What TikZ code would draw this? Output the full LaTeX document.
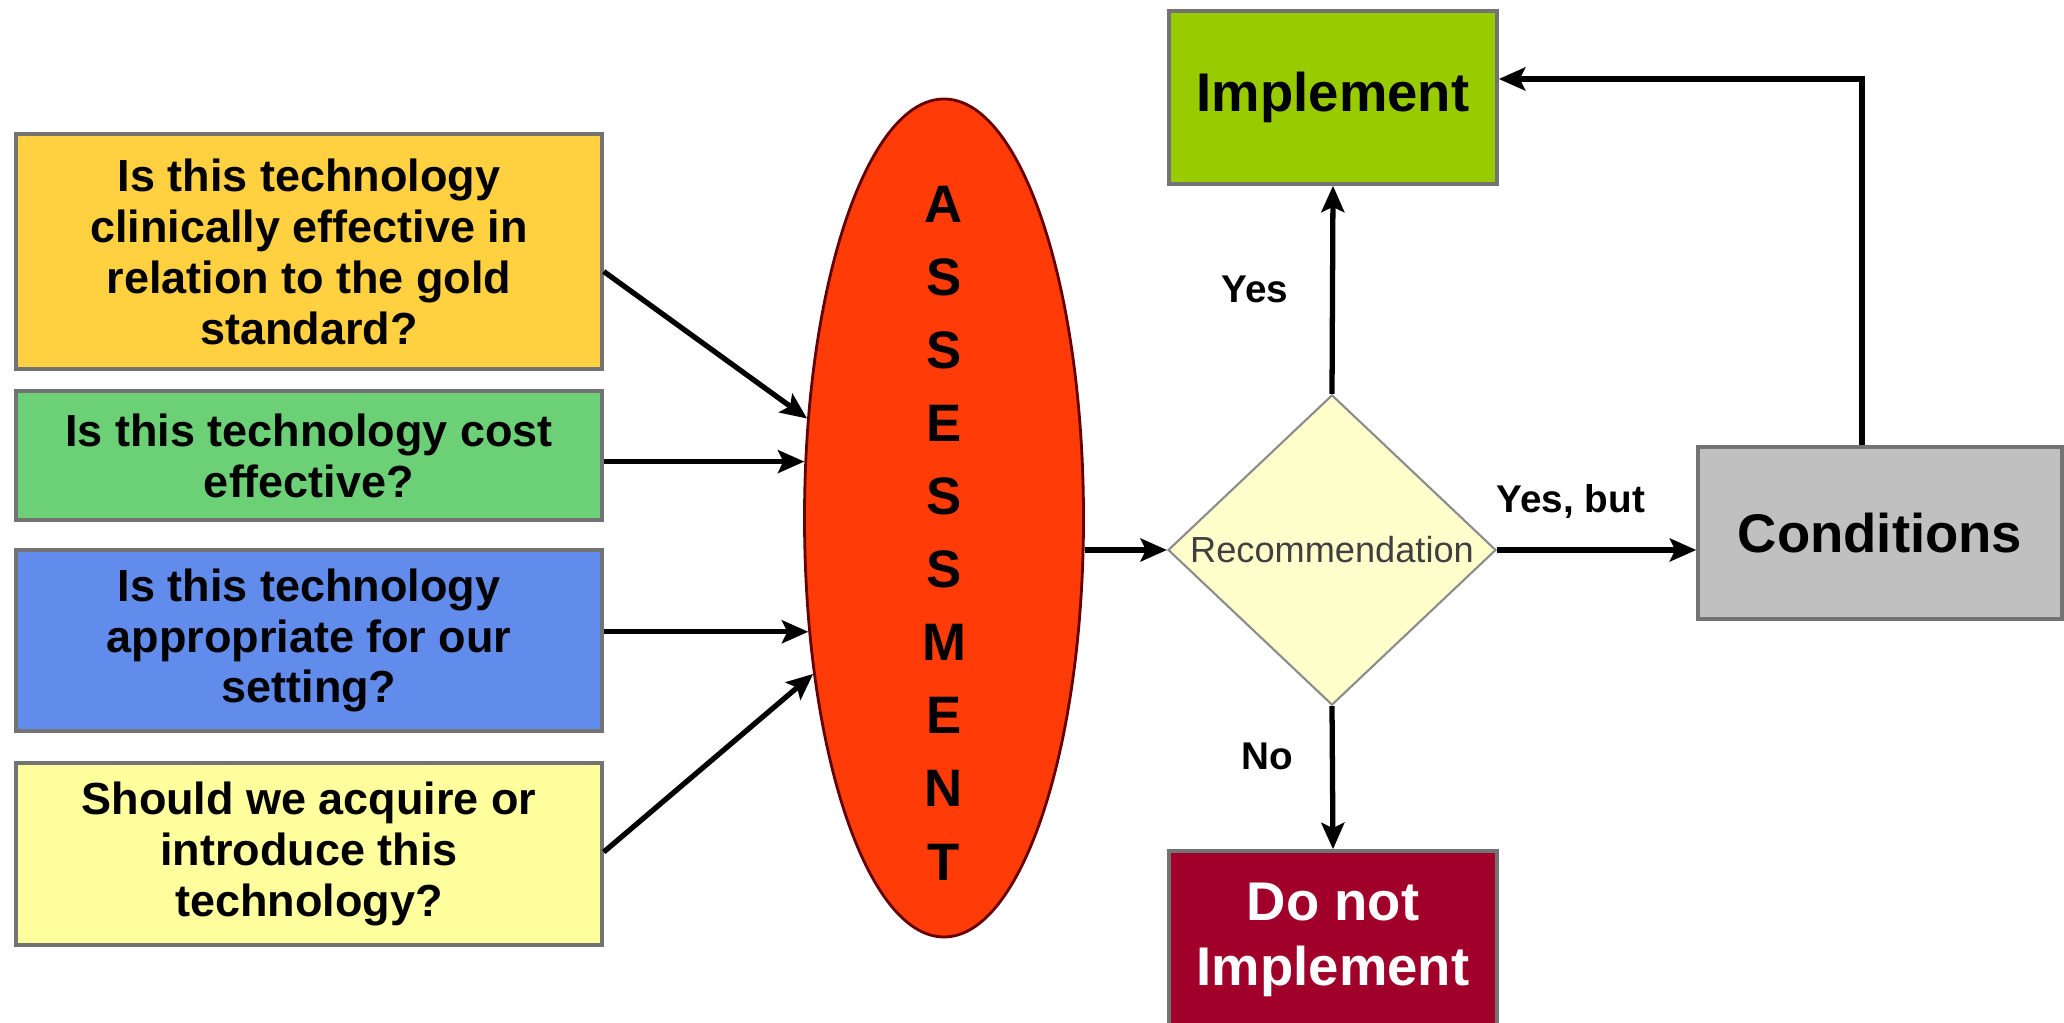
\documentclass[tikz,border=0pt]{standalone}
\usepackage{xcolor}
\usepackage{fontspec}
\setmainfont{Liberation Sans}
\usepackage{tikz}
\usetikzlibrary{shapes,arrows.meta,positioning,calc}
\definecolor{qyellow}{RGB}{255,208,64}
\definecolor{qgreen}{RGB}{108,208,118}
\definecolor{qblue}{RGB}{98,140,235}
\definecolor{qpale}{RGB}{255,255,158}
\definecolor{assessred}{RGB}{255,60,8}
\definecolor{recpale}{RGB}{255,255,204}
\definecolor{implgreen}{RGB}{153,204,0}
\definecolor{condgray}{RGB}{192,192,192}
\definecolor{noimplred}{RGB}{160,0,42}

\begin{document}
\begin{tikzpicture}[
    question/.style={rectangle, draw=black!55, line width=1pt, align=center, minimum width=5.86cm, inner sep=0pt, font=\bfseries\fontsize{12.8}{14.5}\selectfont},
    outcome/.style={rectangle, draw=black!55, line width=1pt, align=center, minimum width=3.28cm, inner sep=0pt, font=\bfseries\fontsize{15.5}{18.5}\selectfont},
    lbl/.style={font=\bfseries\fontsize{11}{13}\selectfont},
    arrow/.style={-{Stealth[length=7.5pt,width=6.5pt,inset=1.5pt]}, line width=1.5pt}
]
    \useasboundingbox (0,0) rectangle (20.64,-10.23);

    \node[question, fill=qyellow, minimum height=2.35cm] (clinical) at (3.09,-2.515) {Is this technology\\clinically effective in\\relation to the gold\\standard?};
    \node[question, fill=qgreen, minimum height=1.29cm] (cost) at (3.09,-4.555) {Is this technology cost\\effective?};
    \node[question, fill=qblue, minimum height=1.81cm] (setting) at (3.09,-6.405) {Is this technology\\appropriate for our\\setting?};
    \node[question, fill=qpale, minimum height=1.82cm] (acquire) at (3.09,-8.54) {Should we acquire or\\introduce this\\technology?};

    \node[ellipse, draw=black!60!red, line width=0.8pt, fill=assessred, minimum width=2.79cm, minimum height=8.38cm, inner sep=0pt] (assess) at (9.44,-5.18) {};
    \node[align=center, inner sep=0pt, font=\bfseries\fontsize{15}{20.8}\selectfont] (assesstext) at (9.44,-5.33) {A\\S\\S\\E\\S\\S\\M\\E\\N\\T};

    \node[diamond, draw=black!45, line width=0.6pt, fill=recpale, minimum width=3.28cm, minimum height=3.09cm, inner sep=0pt, text=black!75, font=\fontsize{10.3}{12}\selectfont] (rec) at (13.32,-5.50) {Recommendation};

    \node[outcome, fill=implgreen, minimum height=1.73cm] (impl) at (13.33,-0.975) {Implement};
    \node[outcome, fill=condgray, minimum width=3.64cm, minimum height=1.72cm] (cond) at (18.80,-5.33) {Conditions};
    \node[outcome, fill=noimplred, text=white, minimum height=1.78cm] (noimpl) at (13.33,-9.40) {Do not\\Implement};

    \draw[arrow] ([yshift=-2mm]clinical.east) -- (assess.144);
    \draw[arrow] (cost.east |- assess.158) -- (assess.158);
    \draw[arrow] (setting.east |- assess.220) -- (assess.220);
    \draw[arrow] ([yshift=0.2mm]acquire.east) -- (assess.230);
    \draw[arrow] (rec.west -| assess.east) -- (rec.west);

    \draw[arrow] (rec.north) -- node[lbl, left=0.3cm]{Yes} (impl.south);
    \draw[arrow] (rec.east) -- node[lbl, above=0.17cm, pos=0.37]{Yes, but} (rec.east -| cond.west);
    \draw[arrow] (rec.south) -- node[lbl, left=0.25cm, pos=0.35]{No} (noimpl.north);
    \draw[arrow] ([xshift=-1.8mm]cond.north) |- ([yshift=1.85mm]impl.east);
\end{tikzpicture}
\end{document}
